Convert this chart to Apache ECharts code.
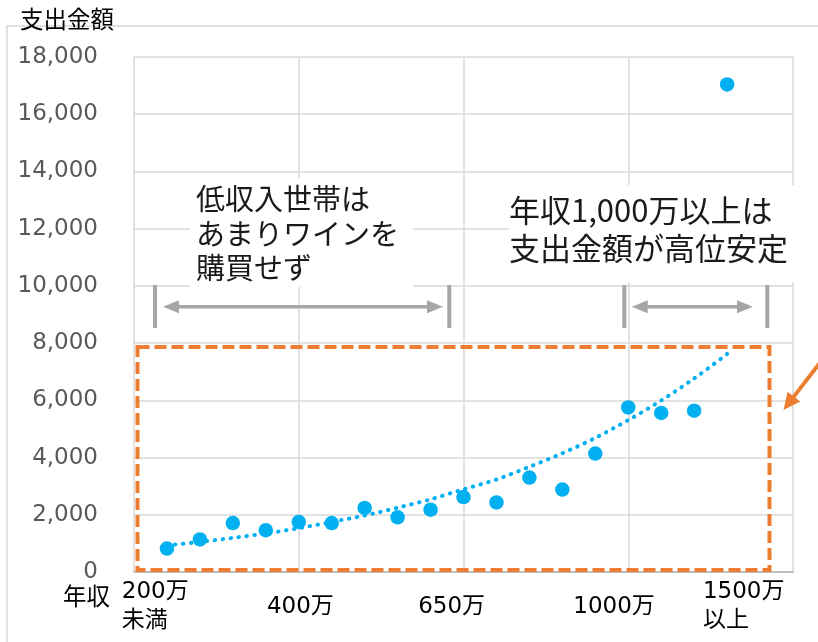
<!DOCTYPE html>
<html>
<head>
<meta charset="utf-8">
<script src="https://cdn.jsdelivr.net/npm/echarts@6/dist/echarts.min.js"></script>
<style>
html,body{margin:0;padding:0;background:#fff;}
#c{width:818px;height:642px;}
</style>
</head>
<body>
<div id="c"></div>
<script>
// ---- data ----
const incomeIndex = [1,2,3,4,5,6,7,8,9,10,11,12,13,14,15,16,17,18];
const spending = [820,1140,1710,1460,1750,1710,2240,1910,2180,2620,2430,3300,2880,4140,5750,5560,5640,17040];
const trendValues = [930,1052,1192,1346,1531,1751,1975,2247,2541,2891,3233,3677,4149,4687,5309,5994,6763,7620];
const xTickLabels = ['200万\n未満','400万','650万','1000万','1500万\n以上'];
const xTickAt = [0.66, 5.05, 9.64, 14.57, 18.51];
const yTitle = '支出金額';
const xTitle = '年収';
const noteLeft = ['低収入世帯は','あまりワインを','購買せず'];
const noteRight = ['年収1,000万以上は','支出金額が高位安定'];

const FONT = '"DejaVu Sans","Noto Sans CJK JP",sans-serif';
const JFONT = '"Noto Sans CJK JP","DejaVu Sans",sans-serif';
const grey = '#a6a6a6';
const orange = '#ED7D31';
const blue = '#00B0F0';

function labelFor(v){
  let best = 0, d = Infinity;
  xTickAt.forEach((t, i) => { const dd = Math.abs(t - v); if (dd < d) { d = dd; best = i; } });
  const s = xTickLabels[best];
  if (!s || s.indexOf('\n') < 0) return s || '';
  const key = best === 0 ? 'a' : 'b';
  return s.split('\n').map(t => '{' + key + '|' + t + '}').join('\n');
}

function doubleArrow(x1, x2, y, barL, barR){
  const els = [];
  [barL, barR].forEach(bx => els.push({
    type:'line', shape:{x1:bx, y1:285, x2:bx, y2:328},
    style:{stroke:grey, lineWidth:4}, z:10
  }));
  els.push({type:'line', shape:{x1:x1+10, y1:y, x2:x2-10, y2:y}, style:{stroke:grey, lineWidth:3.5}, z:10});
  els.push({type:'polygon', shape:{points:[[x1,y],[x1+16,y-6.5],[x1+16,y+6.5]]}, style:{fill:grey}, z:10});
  els.push({type:'polygon', shape:{points:[[x2,y],[x2-16,y-6.5],[x2-16,y+6.5]]}, style:{fill:grey}, z:10});
  return els;
}

const chart = echarts.init(document.getElementById('c'), null, {renderer:'canvas'});

// orange arrow geometry
const tipX = 783.5, tipY = 410;
const ang = Math.atan2(45, -34.7);
const ux = Math.cos(ang), uy = Math.sin(ang);
const headLen = 17, headHalf = 8;
const baseX = tipX - ux*headLen, baseY = tipY - uy*headLen;

const graphics = [
  {type:'rect', shape:{x:7, y:26, width:900, height:700}, style:{fill:'none', stroke:'#d9d9d9', lineWidth:1.5}, z:0, silent:true},
  {type:'text', x:20, y:19, style:{text:yTitle, font:'23.5px ' + JFONT, fill:'#000', verticalAlign:'middle'}, z:20},
  {type:'text', x:63, y:596, style:{text:xTitle, font:'23.5px ' + JFONT, fill:'#000', verticalAlign:'middle'}, z:20},
  {type:'rect', shape:{x:190, y:178, width:223, height:109}, style:{fill:'#fff'}, z:5},
  {type:'text', x:196, y:182, style:{text:noteLeft.join('\n'), font:'29px ' + JFONT, fill:'#1a1a1a', lineHeight:34.5}, z:6},
  {type:'rect', shape:{x:509, y:185, width:300, height:97}, style:{fill:'#fff'}, z:5},
  {type:'text', x:509, y:191, style:{text:noteRight.join('\n'), font:'31px ' + JFONT, fill:'#1a1a1a', lineHeight:38}, z:6},
  {type:'rect', shape:{x:137.5, y:347, width:632, height:223}, style:{fill:'none', stroke:orange, lineWidth:4, lineDash:[12,5]}, z:8},
  {type:'line', shape:{x1:tipX - ux*90, y1:tipY - uy*90, x2:baseX + ux*2, y2:baseY + uy*2}, style:{stroke:orange, lineWidth:4}, z:8},
  {type:'polygon', shape:{points:[[tipX,tipY],[baseX - uy*headHalf, baseY + ux*headHalf],[baseX + uy*headHalf, baseY - ux*headHalf]]}, style:{fill:orange}, z:8}
].concat(doubleArrow(163, 443, 306.7, 155, 449.3)).concat(doubleArrow(631.7, 753, 306.7, 624.3, 767.3));

chart.setOption({
  animation:false,
  backgroundColor:'#fff',
  grid:{left:134, right:25, top:57, bottom:70},
  xAxis:[{
    type:'value', min:0, max:20, interval:5,
    axisLine:{show:true, lineStyle:{color:'#bfbfbf', width:2}},
    axisTick:{show:false},
    axisLabel:{show:false},
    splitLine:{show:true, lineStyle:{color:'#d9d9d9', width:1.5}}
  },{
    type:'value', min:0, max:20, position:'bottom',
    axisLine:{show:false}, axisTick:{show:false}, splitLine:{show:false},
    axisLabel:{
      show:true, customValues:xTickAt, margin:35, verticalAlign:'middle',
      fontFamily:FONT, fontSize:23, color:'#000', lineHeight:29,
      formatter:function(v){ return labelFor(v); },
      rich:{
        a:{width:68, align:'left', fontFamily:FONT, fontSize:23, color:'#000', lineHeight:29},
        b:{width:82, align:'left', fontFamily:FONT, fontSize:23, color:'#000', lineHeight:29}
      }
    }
  }],
  yAxis:{
    type:'value', min:0, max:18000, interval:2000,
    axisLine:{show:false}, axisTick:{show:false},
    axisLabel:{margin:36, fontFamily:FONT, fontSize:23, color:'#595959',
      formatter:function(v){ return Number(v).toLocaleString('en-US'); }},
    splitLine:{show:true, lineStyle:{color:'#d9d9d9', width:1.5}}
  },
  series:[{
    type:'scatter', xAxisIndex:0,
    data:incomeIndex.map((x,i)=>[x, spending[i]]),
    symbol:'circle', symbolSize:14.5,
    itemStyle:{color:blue, opacity:1}, z:3
  },{
    type:'line', xAxisIndex:0,
    data:incomeIndex.map((x,i)=>[x, trendValues[i]]),
    smooth:0.3, symbol:'none',
    lineStyle:{color:blue, width:4, type:[0.5,7.5], cap:'round', opacity:1}, z:4
  }],
  graphic:graphics
});
</script>
</body>
</html>
